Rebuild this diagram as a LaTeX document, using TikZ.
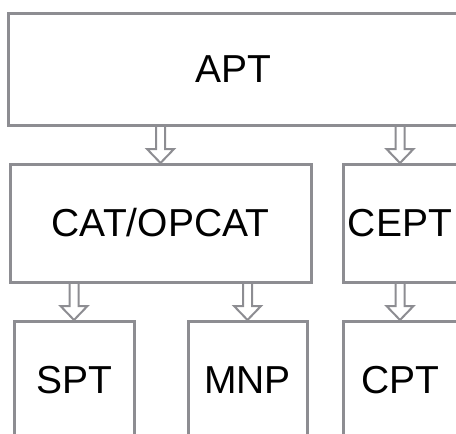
\documentclass[tikz,border=0pt]{standalone}
\usepackage{fontspec}
\setmainfont{Liberation Sans}
\usetikzlibrary{calc}
\definecolor{boxgray}{RGB}{141,141,146}
\begin{document}
\begin{tikzpicture}[x=1pt,y=1pt,
  box/.style={draw=boxgray, line width=3pt, inner sep=0pt, outer sep=0pt,
    font=\fontsize{39}{44}\selectfont, text=black},
  harrow/.style={draw=boxgray, line width=2pt, line join=miter}]
\useasboundingbox (0,0) rectangle (456,-434);
\begin{scope}
\clip (0,0) rectangle (456,-434);
\node[box, minimum width=449pt, minimum height=111.5pt] (apt) at (233,-69.25) {APT};
\node[box, minimum width=301pt, minimum height=118pt] (cat) at (160.5,-223) {CAT/OPCAT};
\node[box, minimum width=114pt, minimum height=118pt] (cept) at (400,-223) {CEPT};
\node[box, minimum width=120pt, minimum height=119pt] (spt) at (74,-380.5) {SPT};
\node[box, minimum width=119pt, minimum height=119pt] (mnp) at (247.5,-380.5) {MNP};
\node[box, minimum width=114pt, minimum height=119pt] (cpt) at (400,-380.5) {CPT};
\foreach \a/\b in {apt/cat, apt/cept, cat/spt, cat/mnp, cept/cpt}{
  \draw[harrow] let \p1=(\a.south -| \b.north), \p2=(\b.north) in
    (\x1-4.5pt,\y1-1.5pt) -- (\x1-4.5pt,\y2+15pt) -- (\x1-13.5pt,\y2+15pt) --
    (\x2,\y2+1pt) -- (\x1+13.5pt,\y2+15pt) -- (\x1+4.5pt,\y2+15pt) -- (\x1+4.5pt,\y1-1.5pt);
}
\end{scope}
\end{tikzpicture}
\end{document}
